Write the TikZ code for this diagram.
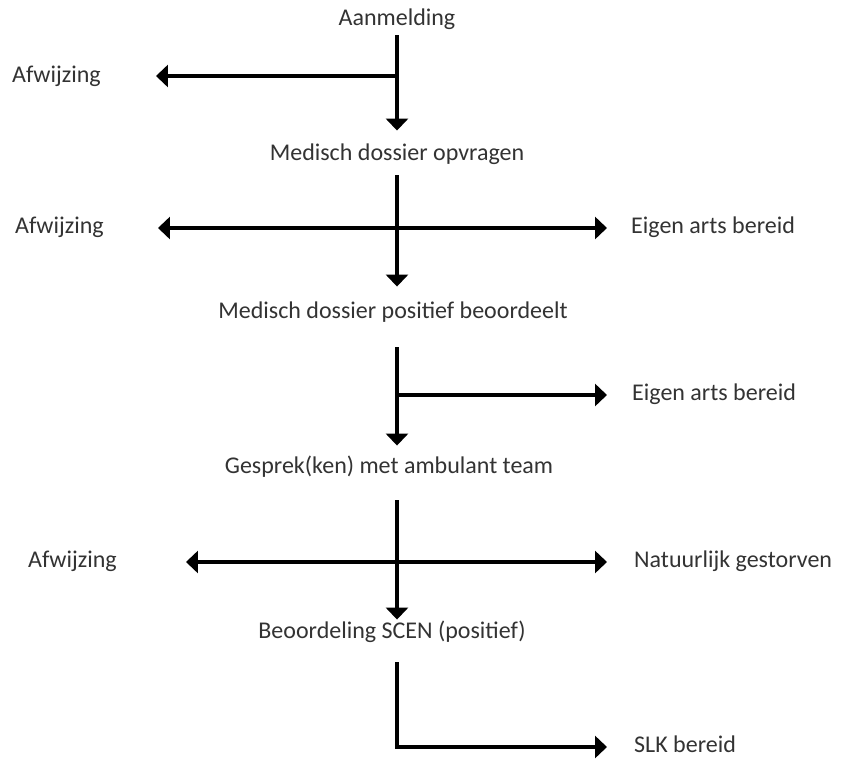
\documentclass[tikz,border=0pt]{standalone}
\usepackage{fontspec}
\setmainfont{Carlito}
\usetikzlibrary{arrows.meta}
\definecolor{txt}{HTML}{333333}
\begin{document}
\begin{tikzpicture}[x=1pt,y=-1pt,
  lbl/.style={inner sep=0pt, text height=16pt, text depth=4.5pt, text=txt, font=\fontsize{24pt}{28pt}\selectfont},
  flow/.style={draw=black, line width=3.1pt, -{Triangle[length=12pt,width=22pt]}}]
\useasboundingbox[fill=white] (0,0) rectangle (865,760);
\coordinate (sp) at (397,0);
% main nodes
\node[lbl] (n1) at (397,20) {Aanmelding};
\node[lbl] (n2) at (397,155) {Medisch dossier opvragen};
\node[lbl] (n3) at (393,313) {Medisch dossier positief beoordeelt};
\node[lbl] (n4) at (389,468) {Gesprek(ken) met ambulant team};
\node[lbl] (n5) at (392,633) {Beoordeling SCEN (positief)};
% side labels
\node[lbl, anchor=west] (r1) at (12,77) {Afwijzing};
\node[lbl, anchor=west] (r2) at (15,228) {Afwijzing};
\node[lbl, anchor=west] (e2) at (631,228) {Eigen arts bereid};
\node[lbl, anchor=west] (e3) at (632,395) {Eigen arts bereid};
\node[lbl, anchor=west] (r4) at (28,562) {Afwijzing};
\node[lbl, anchor=west] (e4) at (634,562) {Natuurlijk gestorven};
\node[lbl, anchor=west] (e5) at (634,747) {SLK bereid};
% junctions
\coordinate (j1) at (397,76);
\coordinate (j2) at (397,228);
\coordinate (j3) at (397,395);
\coordinate (j4) at (397,562);
% spine
\draw[flow, shorten <=5pt, shorten >=14pt] (n1.south -| sp) -- (n2.north -| sp);
\draw[flow, shorten <=10pt, shorten >=16pt] (n2.south -| sp) -- (n3.north -| sp);
\draw[flow, shorten <=24pt, shorten >=12pt] (n3.south -| sp) -- (n4.north -| sp);
\draw[flow, shorten <=22pt, shorten >=3pt] (n4.south -| sp) -- (n5.north -| sp);
\draw[flow, shorten <=19pt, shorten >=27pt] (n5.south -| sp) |- (e5.west);
% branches
\draw[flow, shorten >=55pt] (j1) -- (r1.east |- j1);
\draw[flow, shorten >=54pt] (j2) -- (r2.east);
\draw[flow, shorten >=24pt] (j2) -- (e2.west);
\draw[flow, shorten >=25pt] (j3) -- (e3.west);
\draw[flow, shorten >=69pt] (j4) -- (r4.east);
\draw[flow, shorten >=27pt] (j4) -- (e4.west);
\end{tikzpicture}
\end{document}
